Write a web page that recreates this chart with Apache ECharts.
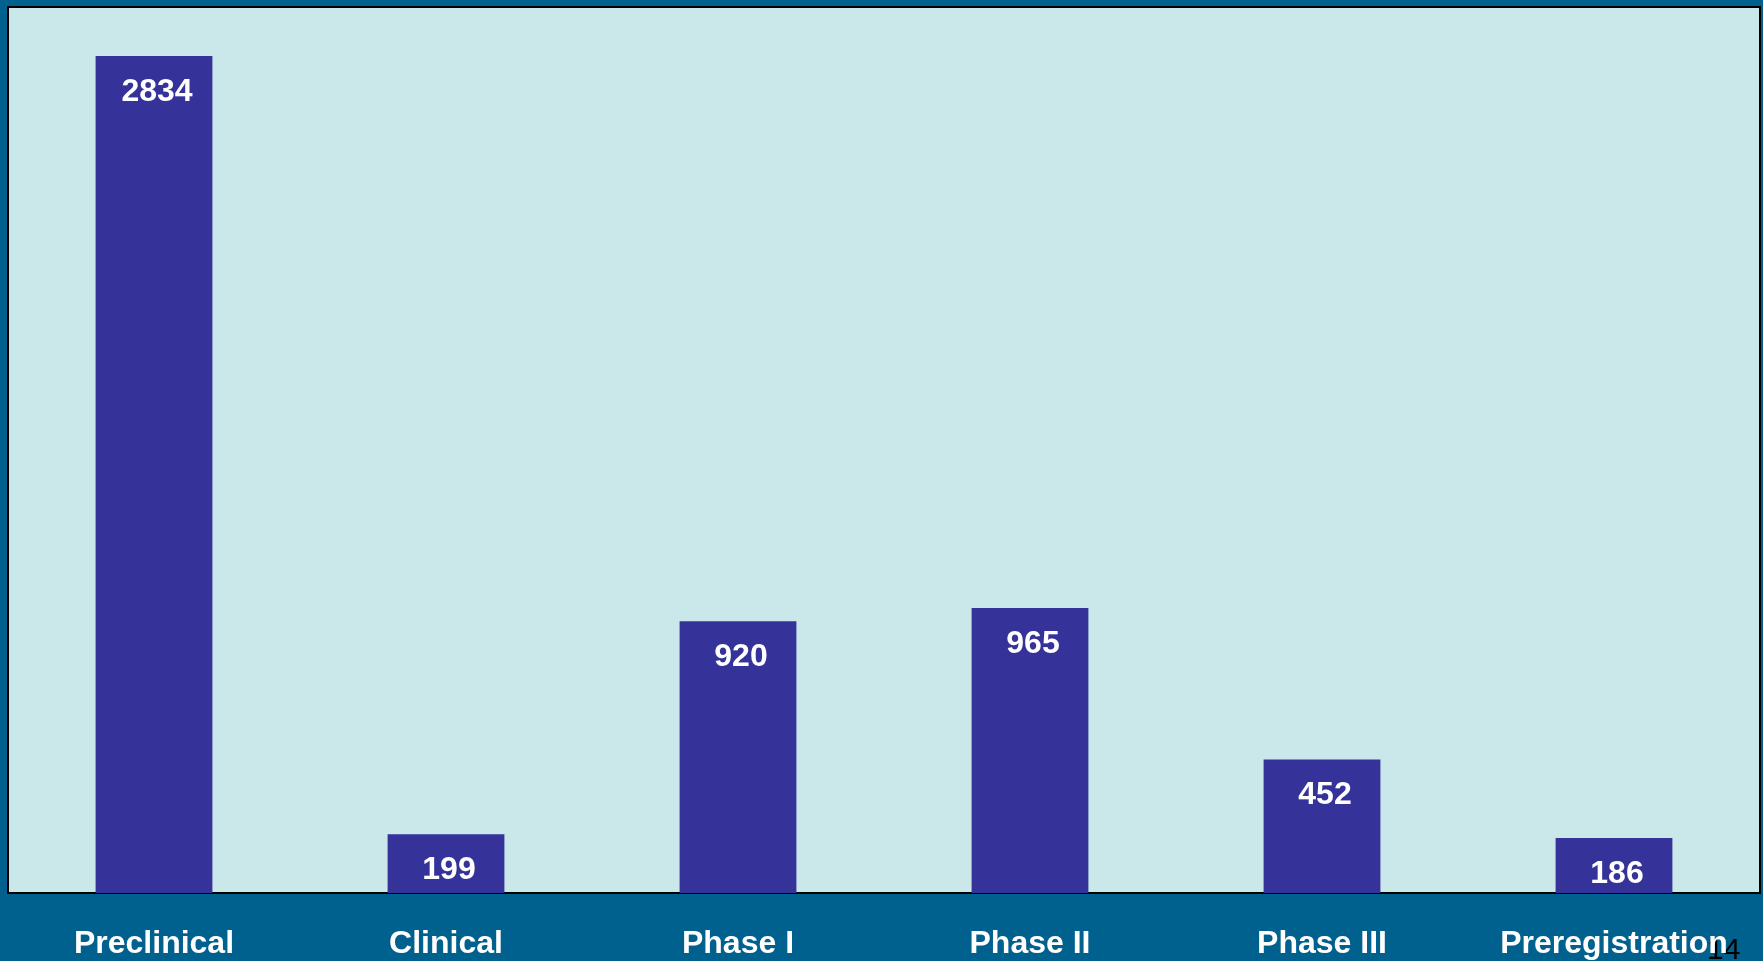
<!DOCTYPE html>
<html><head><meta charset="utf-8">
<script src="https://cdn.jsdelivr.net/npm/echarts@6/dist/echarts.min.js"></script>
<style>html,body{margin:0;padding:0;background:#00618F;}#c{width:1763px;height:961px;}</style>
</head><body><div id="c"></div>
<script>
const categories = ['Preclinical', 'Clinical', 'Phase I', 'Phase II', 'Phase III', 'Preregistration'];
const values = [2834, 199, 920, 965, 452, 186];
const pageNumber = '14';

const chart = echarts.init(document.getElementById('c'));
chart.setOption({
  backgroundColor: '#00618F',
  animation: false,
  grid: {
    left: 8, right: 3, top: 7, bottom: 68,
    show: true, backgroundColor: '#CAE8EA', borderColor: '#000000', borderWidth: 2
  },
  xAxis: {
    type: 'category', data: categories,
    axisLine: { show: false }, axisTick: { show: false },
    axisLabel: { color: '#FFFFFF', fontFamily: 'Liberation Sans, Arial, sans-serif', fontWeight: 'bold', fontSize: 32, margin: 35, interval: 0 }
  },
  yAxis: {
    type: 'value', min: 0, max: 3000, interval: 500,
    show: false, splitLine: { show: false }
  },
  series: [{
    type: 'bar', data: values, barWidth: '40%',
    itemStyle: { color: '#35339A' },
    label: {
      show: true, position: 'insideTop', distance: 20, offset: [3, 0],
      color: '#FFFFFF', fontFamily: 'Liberation Sans, Arial, sans-serif', fontWeight: 'bold', fontSize: 32
    }
  }],
  graphic: [{
    type: 'text', left: 1707, top: 936,
    style: { text: pageNumber, fill: '#000000', fontFamily: 'Liberation Sans, Arial, sans-serif', fontSize: 30 }
  }]
});
</script></body></html>
